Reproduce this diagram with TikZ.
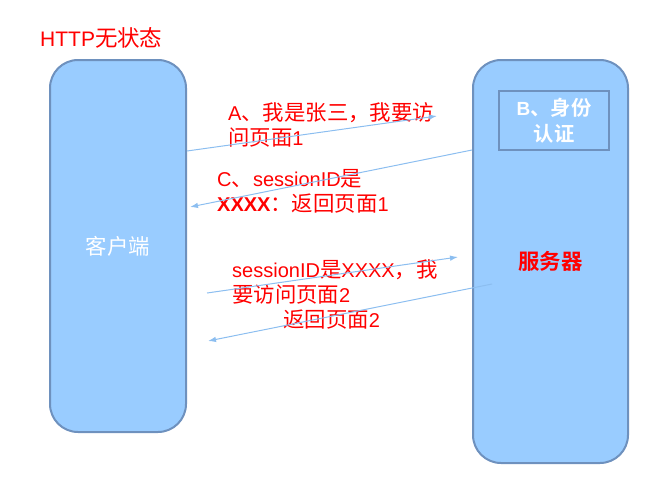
\documentclass[tikz,border=0pt]{standalone}
\usepackage{fontspec}
\setmainfont{Liberation Sans}
\newfontfamily\cjk{Noto Sans CJK SC}[Scale=1.07, BoldFont={Noto Sans CJK SC Bold}]
\newcommand{\zh}[1]{{\cjk #1}}
\usetikzlibrary{arrows.meta}
\definecolor{boxfill}{RGB}{153,204,255}
\definecolor{boxline}{RGB}{110,145,190}
\definecolor{msgline}{RGB}{140,190,240}
\tikzset{
  host/.style={draw=boxline, fill=boxfill, line width=2pt, rounded corners=28pt,
    inner sep=0pt, font=\fontsize{20}{25}\selectfont},
  authbox/.style={draw=boxline, fill=boxfill, line width=2pt, inner sep=0pt,
    minimum width=110pt, minimum height=59pt, align=center, text=white,
    font=\fontsize{19}{26}\selectfont\bfseries},
  msg/.style={draw=msgline, line width=1pt, -{Latex[length=8pt,width=5.5pt]}},
  note/.style={text=red, align=left, anchor=north west, inner sep=0pt,
    font=\fontsize{20}{25.5}\selectfont},
}

\begin{document}
\begin{tikzpicture}[x=1pt, y=-1pt]
        \useasboundingbox (0,0) rectangle (660,490);

        \node[host, minimum width=136pt, minimum height=372pt, text=white]
              (client) at (118,246) {\zh{客户端}};
        \node[host, minimum width=155pt, minimum height=403pt, text=red]
              (server) at (550.5,261.5) {\zh{\bfseries 服务器}};
        \node[authbox] (auth) at (554,120.5) {B\zh{、身份}\\\zh{认证}};

        \node[note, font=\fontsize{21}{25}\selectfont] (title) at (40,27) {HTTP\zh{无状态}};

        \node[note] (noteA) at (228,102) {A\zh{、我是张三，我要访}\\\zh{问页面}1};
        \node[note] (noteC) at (217,169) {C\zh{、}sessionID\zh{是}\\\textbf{XXXX}\zh{：返回页面}1};
        \node[note] (noteD) at (232,259) {sessionID\zh{是}XXXX\zh{，我}\\\zh{要访问页面}2};
        \node[note] (noteE) at (283,310) {\zh{返回页面}2};

        \coordinate (aEnd)   at (437,116);
        \coordinate (cEnd)   at (190,207);
        \coordinate (dStart) at (207,293);
        \coordinate (dEnd)   at (458,257);
        \coordinate (eStart) at (492,284);
        \coordinate (eEnd)   at (208,341);

        \draw[msg] (client.east |- 0,151) -- (aEnd);
        \draw[msg] (server.west |- 0,150) -- (cEnd);
        \draw[msg] (dStart) -- (dEnd);
        \draw[msg] (eStart) -- (eEnd);
\end{tikzpicture}
\end{document}
